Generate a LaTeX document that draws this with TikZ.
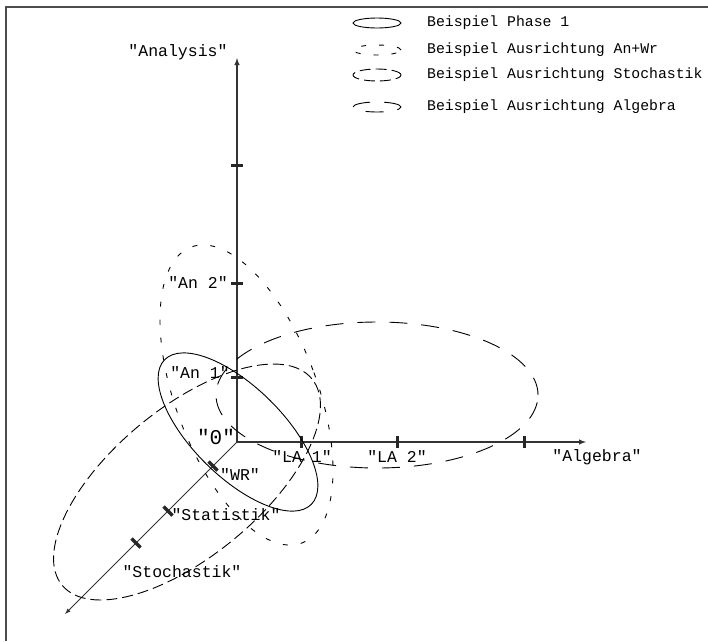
\documentclass[tikz,border=0pt]{standalone}
\usepackage{fontspec}
\setmainfont{Liberation Mono}[Ligatures=TeXOff]
\begin{document}
\begin{tikzpicture}[x=1pt, y=1pt, >=latex]

	% Define styles
	\tikzstyle{axis label} = [inner sep=0pt, font=\fontsize{16.5}{18}\selectfont]
	\tikzstyle{legend label} = [inner sep=0pt, anchor=west, font=\fontsize{14.8}{16}\selectfont]
	\tikzstyle{tick mark} = [line width=3pt, black!85]
	\tikzstyle{phase one} = [line width=0.9pt]
	\tikzstyle{ausr anwr} = [line width=0.9pt, dash pattern=on 5pt off 13pt]
	\tikzstyle{ausr stoch} = [line width=0.9pt, dash pattern=on 11pt off 5pt]
	\tikzstyle{ausr alg} = [line width=0.9pt, dash pattern=on 18pt off 14pt]

	\useasboundingbox (0,0) rectangle (708,-641);
	\fill[white] (0,0) rectangle (708,-641);

	% Frame, only left and top edge
	\draw[line width=2pt, black!70] (6,-641) -- (6,-7) -- (708,-7);

	% Place axis points
	\coordinate (origin) at (237,-442);
	\coordinate (analysis end) at (237,-58);
	\coordinate (algebra end) at (586,-442);
	\coordinate (stochastik end) at (65,-614);

	% Draw axes
	\foreach \dest/\width in {
		analysis end/1.4pt,
		algebra end/1.4pt,
		stochastik end/0.9pt}
	\path (origin) edge[->, line width=\width, draw=black!80] (\dest);

	% Ticks on the axes
	\foreach \d in {65,159,277}
	\draw[tick mark] (231,-442+\d) -- (243,-442+\d);
	\foreach \d in {64,160,287}
	\draw[tick mark] (237+\d,-436) -- (237+\d,-448);
	\foreach \d in {24,69,101}
	\draw[tick mark, line width=3.5pt] (237-\d-4.5,-442-\d+4.5) -- (237-\d+4.5,-442-\d-4.5);

	% Ellipses
	\draw[phase one] (238,-432) ellipse [x radius=103, y radius=45, rotate=-44.6];
	\draw[ausr anwr] (246.5,-395) ellipse [x radius=71, y radius=158, rotate=20.5];
	\draw[ausr stoch] (187,-482) ellipse [x radius=162, y radius=74, rotate=39.6];
	\draw[ausr alg] (377,-395) ellipse [x radius=161, y radius=73];

	% Axis labels
	\node[axis label] (analysis) at (178,-52) {"Analysis"};
	\node[axis label] (an two) at (198,-283) {"An 2"};
	\node[axis label] (an one) at (200,-373) {"An 1"};
	\node[axis label, font=\fontsize{21}{22}\selectfont] (zero) at (216,-437) {"0"};
	\node[axis label] (la one) at (302,-457) {"LA 1"};
	\node[axis label] (la two) at (397,-457) {"LA 2"};
	\node[axis label] (algebra) at (597,-457) {"Algebra"};
	\node[axis label] (wr) at (240,-475) {"WR"};
	\node[axis label] (statistik) at (226,-515) {"Statistik"};
	\node[axis label] (stochastik) at (182,-572) {"Stochastik"};

	% Legend
	\draw[phase one] (377,-23) ellipse [x radius=24, y radius=5];
	\node[legend label] (leg phase) at (427,-23) {Beispiel Phase 1};
	\draw[ausr anwr] (377,-50) ellipse [x radius=24, y radius=5];
	\node[legend label] (leg anwr) at (427,-50) {Beispiel Ausrichtung An+Wr};
	\draw[ausr stoch] (377,-75) ellipse [x radius=24, y radius=6];
	\node[legend label] (leg stoch) at (427,-75) {Beispiel Ausrichtung Stochastik};
	\draw[ausr alg] (377,-107) ellipse [x radius=24, y radius=5];
	\node[legend label] (leg alg) at (427,-107) {Beispiel Ausrichtung Algebra};

\end{tikzpicture}
\end{document}
